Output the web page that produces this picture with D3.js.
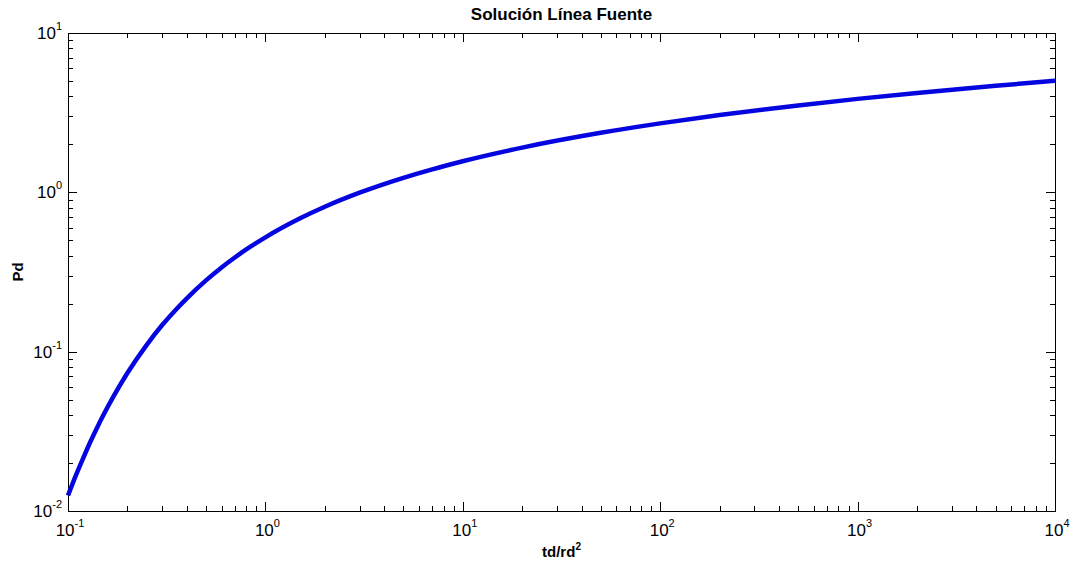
<!DOCTYPE html>
<html>
<head>
<meta charset="utf-8">
<script src="https://cdn.jsdelivr.net/npm/d3@7"></script>
<style>
  body { margin: 0; background: #fff; }
  svg { display: block; font-family: "Liberation Sans", Arial, sans-serif; }
</style>
</head>
<body>
<div id="chart"></div>
<script>
// td/rd^2 values and the Pd
const tdValues = [0.1, 0.11, 0.12, 0.13, 0.14, 0.15, 0.17, 0.2, 0.25, 0.3, 0.35, 0.4, 0.5, 0.6,
  0.7, 0.8, 1, 1.5, 2, 3, 5, 7, 10, 20, 50, 100, 200, 500, 1000, 2000, 5000, 10000];
const pdValues = [0.0125, 0.0169, 0.0218, 0.0273, 0.0331, 0.0393, 0.0524, 0.0735, 0.110, 0.1469,
  0.182, 0.216, 0.280, 0.338, 0.390, 0.438, 0.522, 0.687, 0.812, 0.995, 1.234, 1.395, 1.568,
  1.909, 2.363, 2.708, 3.054, 3.512, 3.859, 4.205, 4.663, 5.010];

const xDecades = [-1, 0, 1, 2, 3, 4];
const yDecades = [-2, -1, 0, 1];

const titleText = 'Solución Línea Fuente';
const xLabel = 'td/rd';
const yLabel = 'Pd';

const W = 1075, H = 569;
const margin = { top: 33, right: 20, bottom: 58, left: 68 };
const width = W - margin.left - margin.right;
const height = H - margin.top - margin.bottom;

const svg = d3.select('#chart').append('svg')
  .attr('width', W).attr('height', H);

const g = svg.append('g')
  .attr('transform', `translate(${margin.left},${margin.top})`);

const x = d3.scaleLog().domain([1e-1, 1e4]).range([0, width]);
const y = d3.scaleLog().domain([1e-2, 1e1]).range([height, 0]);

// ── minor / major ticks (inside, all four sides) ─────────────
function tickVals(dec) {
  const major = dec.map(d => Math.pow(10, d));
  const minor = [];
  for (let i = 0; i < dec.length - 1; i++) {
    for (let k = 2; k <= 9; k++) minor.push(k * Math.pow(10, dec[i]));
  }
  return { major, minor };
}
const xt = tickVals(xDecades);
const yt = tickVals(yDecades);
const MAJ = 9, MIN = 5;

const ticks = g.append('g').attr('stroke', '#000').attr('stroke-width', 1);
xt.major.concat(xt.minor).forEach(v => {
  const len = xt.major.includes(v) ? MAJ : MIN;
  const px = Math.round(x(v)) + 0.5;
  ticks.append('line').attr('x1', px).attr('x2', px).attr('y1', height).attr('y2', height - len);
  ticks.append('line').attr('x1', px).attr('x2', px).attr('y1', 0).attr('y2', len);
});
yt.major.concat(yt.minor).forEach(v => {
  const len = yt.major.includes(v) ? MAJ : MIN;
  const py = Math.round(y(v)) + 0.5;
  ticks.append('line').attr('y1', py).attr('y2', py).attr('x1', 0).attr('x2', len);
  ticks.append('line').attr('y1', py).attr('y2', py).attr('x1', width).attr('x2', width - len);
});

// frame
g.append('rect')
  .attr('x', 0.5).attr('y', 0.5)
  .attr('width', width).attr('height', height)
  .attr('fill', 'none').attr('stroke', '#000').attr('stroke-width', 1);

// ── curve ────────────────────────────────────────────────────
const pts = tdValues.map((t, i) => [t, pdValues[i]]);
const line = d3.line()
  .x(d => x(d[0]))
  .y(d => y(d[1]))
  .curve(d3.curveMonotoneX);

g.append('path')
  .datum(pts)
  .attr('d', line)
  .attr('fill', 'none')
  .attr('stroke', '#0505e0')
  .attr('stroke-width', 4.5)
  .attr('stroke-linecap', 'butt');

// ── tick labels (10^n) ───────────────────────────────────────
function powLabel(sel, n, px, py, anchor) {
  const t = sel.append('text')
    .attr('x', px).attr('y', py)
    .attr('text-anchor', anchor)
    .attr('font-size', 17)
    .attr('fill', '#000');
  t.append('tspan').text('10');
  t.append('tspan').attr('font-size', 11).attr('dy', -9).text(n);
}
const lab = g.append('g');
xDecades.forEach(d => powLabel(lab, d, x(Math.pow(10, d)) + 2, height + 25, 'middle'));
yDecades.forEach(d => powLabel(lab, d, -6, y(Math.pow(10, d)) + 6, 'end'));

// ── axis titles ──────────────────────────────────────────────
const xl = svg.append('text')
  .attr('x', margin.left + width / 2)
  .attr('y', margin.top + height + 46)
  .attr('text-anchor', 'middle')
  .attr('font-size', 15).attr('font-weight', 'bold');
xl.append('tspan').text(xLabel);
xl.append('tspan').attr('font-size', 10).attr('dy', -7).text('2');

svg.append('text')
  .attr('transform', `translate(23,${margin.top + height / 2}) rotate(-90)`)
  .attr('text-anchor', 'middle')
  .attr('font-size', 15).attr('font-weight', 'bold')
  .text(yLabel);

svg.append('text')
  .attr('x', margin.left + width / 2)
  .attr('y', 20)
  .attr('text-anchor', 'middle')
  .attr('font-size', 17).attr('font-weight', 'bold')
  .text(titleText);
</script>
</body>
</html>
